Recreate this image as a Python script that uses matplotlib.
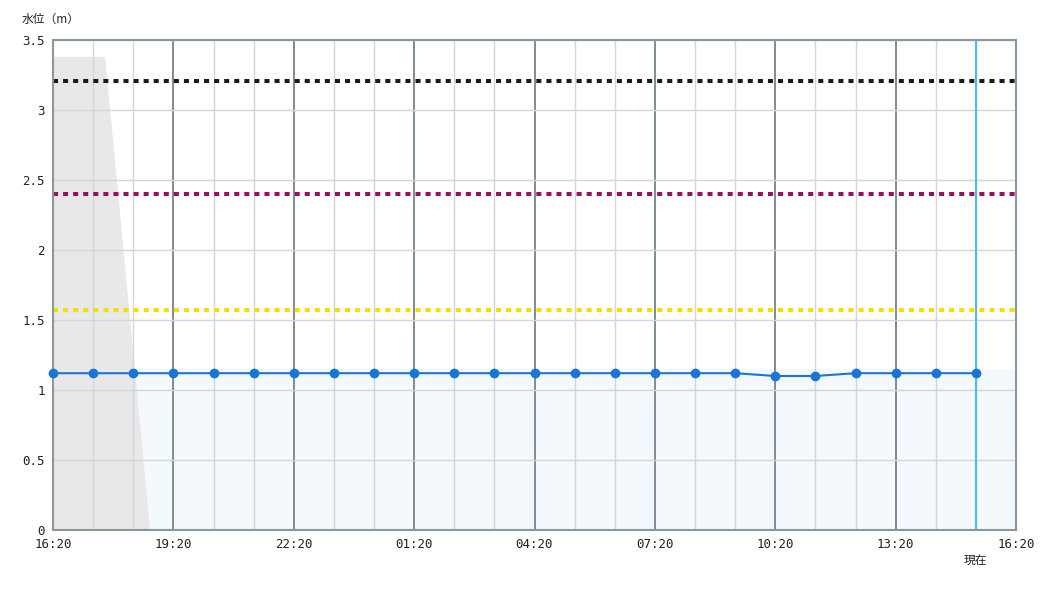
import matplotlib
matplotlib.use("Agg")
import matplotlib.pyplot as plt
import numpy as np

# ---- data ----
hours = list(range(24))  # hours since 16:20
levels = [1.12, 1.12, 1.12, 1.12, 1.12, 1.12, 1.12, 1.12, 1.12, 1.12, 1.12, 1.12,
          1.12, 1.12, 1.12, 1.12, 1.12, 1.12, 1.10, 1.10, 1.12, 1.12, 1.12, 1.12]
tick_hours = [0, 3, 6, 9, 12, 15, 18, 21, 24]
tick_labels = ["16:20", "19:20", "22:20", "01:20", "04:20", "07:20", "10:20", "13:20", "16:20"]
thresholds = [3.21, 2.40, 1.57]
threshold_colors = ["#1a1a1a", "#9b0f62", "#f2e100"]
gray_x = [0, 1.3, 2.42, 0]
gray_y = [3.38, 3.38, 0, 0]
blue_fill_level = 1.15
now_hour = 23

fig = plt.figure(figsize=(10.5, 6), dpi=100)
ax = fig.add_axes([53/1050, 1-530/600, (1016-53)/1050, 490/600])

ax.set_xlim(0, 24)
ax.set_ylim(0, 3.5)

# background fills
ax.fill_between([0, 24], 0, blue_fill_level, color="#f4f9fe", zorder=0, lw=0)
ax.fill(gray_x, gray_y, color="#e8e8e8", zorder=0.5, lw=0)

# grid
for h in range(25):
    if h % 3 == 0:
        ax.axvline(h, color="#7f8b95", lw=1.4, zorder=1)
    else:
        ax.axvline(h, color="#d3d6d9", lw=1, zorder=1)
for y in np.arange(0, 3.51, 0.5):
    ax.axhline(y, color="#d3d6d9", lw=1, zorder=1)

# thresholds
for t, c in zip(thresholds, threshold_colors):
    ax.axhline(t, color=c, lw=2.9, linestyle=(0, (1.25, 1.25)), zorder=2)

# current line
ax.axvline(now_hour, color="#4fbaf2", lw=1.5, zorder=2)

# series
ax.plot(hours, levels, color="#1976d2", lw=1.5, marker="o", ms=6, zorder=3,
        clip_on=False)

for s in ax.spines.values():
    s.set_color("#8a96a0")
    s.set_linewidth(1.5)

ax.set_xticks(tick_hours)
ax.set_xticklabels(tick_labels)
ax.set_yticks([0, 0.5, 1, 1.5, 2, 2.5, 3, 3.5])
ax.set_yticklabels(["0", "0.5", "1", "1.5", "2", "2.5", "3", "3.5"])
ax.tick_params(length=0, labelsize=9, colors="#222222", pad=6)
for lab in ax.get_xticklabels() + ax.get_yticklabels():
    lab.set_family("DejaVu Sans Mono")

fig.text(22/1050, 1-19/600, "水位（m）", family=["Noto Sans CJK JP", "DejaVu Sans"],
         fontsize=8.5, color="#222222", va="center", ha="left")
ax.text(now_hour, -0.22, "現在", family=["Noto Sans CJK JP", "DejaVu Sans"],
        fontsize=8.5, color="#222222", ha="center", va="center",
        transform=ax.transData, clip_on=False)

fig.savefig("out.png", dpi=100)
